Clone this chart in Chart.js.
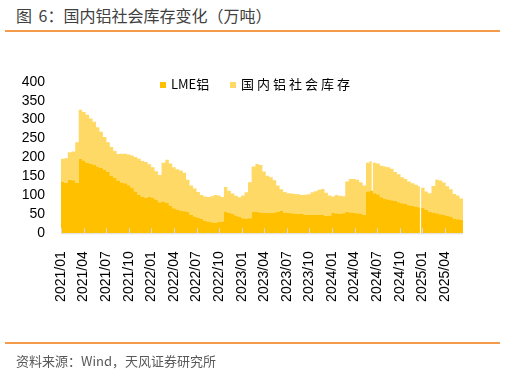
<!DOCTYPE html>
<html>
<head>
<meta charset="utf-8">
<script src="https://cdn.jsdelivr.net/npm/chart.js@4"></script>
<style>
  body { margin: 0; background: #fff; }
  #wrap { position: relative; width: 505px; height: 373px; overflow: hidden; font-family: "Noto Sans CJK SC", sans-serif; }
  #chart { position: absolute; left: 0; top: 0; }
  .title { position: absolute; left: 16px; top: 4px; font-size: 16px; line-height: 22px; color: #404040; word-spacing: 3px; }
  .rule { position: absolute; left: 5px; width: 495px; height: 2px; background: #f39b4b; }
  .source { position: absolute; left: 16px; top: 352px; font-size: 13px; line-height: 18px; color: #595959; }
  #legend { position: absolute; top: 76px; left: 160px; font-size: 13px; line-height: 16px; color: #000; white-space: nowrap; }
  #legend span.item { position: absolute; top: 0; }
  #legend i { position: absolute; top: 6px; width: 6px; height: 6px; }
  #legend b { font-weight: normal; position: absolute; left: 11px; top: 0; }
</style>
</head>
<body>
<div id="wrap">
  <div class="title">图 6：国内铝社会库存变化（万吨）</div>
  <div class="rule" style="top:30px"></div>
  <canvas id="chart" width="505" height="373"></canvas>
  <div id="legend"></div>
  <div class="rule" style="top:342px"></div>
  <div class="source">资料来源：Wind，天风证券研究所</div>
</div>
<script>
// 数据：双周频，从 2021-01-01 起
const startDate = "2021-01-01";
const stepDays = 14;

const lme = [
  136, 133, 141, 140, 133, 196, 192, 186, 183, 181,
  176, 172, 167, 162, 152, 146, 139, 134, 132, 127,
  120, 110, 101, 96, 94, 96, 93, 89, 82, 84,
  80, 73, 66, 63, 60, 58, 56, 48, 44, 42,
  38, 33, 31, 29, 28, 30, 31, 57, 54, 51,
  47, 43, 40, 39, 40, 57, 56, 55, 54, 54,
  54, 55, 56, 60, 55, 54, 53, 52, 51, 52,
  49, 48, 48, 48, 48, 48, 46, 47, 54, 53,
  52, 53, 57, 55, 54, 53, 51, 48, 110, 112,
  106, 103, 95, 91, 89, 87, 85, 82, 79, 77,
  74, 72, 71, 69, 67, 62, 57, 55, 53, 50,
  48, 46, 44, 39, 37, 36, 36
];

const domestic = [
  61, 65, 73, 76, 107, 130, 128, 127, 120, 113,
  104, 96, 87, 78, 76, 71, 70, 76, 78, 81,
  85, 91, 96, 95, 94, 86, 81, 75, 72, 102,
  114, 111, 108, 106, 106, 102, 85, 78, 74, 67,
  63, 64, 65, 69, 73, 70, 65, 65, 58, 54,
  52, 52, 60, 69, 95, 119, 127, 125, 109, 98,
  94, 85, 70, 56, 54, 52, 52, 52, 52, 49,
  53, 55, 60, 63, 67, 69, 61, 53, 43, 48,
  47, 45, 80, 88, 89, 88, 84, 78, 76, 78,
  80, 81, 83, 85, 85, 83, 77, 74, 69, 66,
  63, 60, 57, 55, 53, 48, 49, 70, 88, 89,
  86, 78, 72, 65, 63, 56, 46
];

// 缺失日（图中白色竖线）
const gapDates = ["2024-06-09", "2024-12-22"];
const gapLme = [112, 0];
const gapDomestic = [0, 0];

const seriesNames = ["LME铝", "国内铝社会库存"];
const seriesColors = ["#ffc000", "#ffd966"];

const tickLabels = [
  "2021/01", "2021/04", "2021/07", "2021/10",
  "2022/01", "2022/04", "2022/07", "2022/10",
  "2023/01", "2023/04", "2023/07", "2023/10",
  "2024/01", "2024/04", "2024/07", "2024/10",
  "2025/01", "2025/04"
];

// 日期 -> 距 2021/01 的月数
function monthPos(d) {
  const y = d.getUTCFullYear(), m = d.getUTCMonth(), day = d.getUTCDate();
  const dim = new Date(Date.UTC(y, m + 1, 0)).getUTCDate();
  return (y - 2021) * 12 + m + (day - 1) / dim;
}

const t0 = new Date(startDate + "T00:00:00Z");
let pts = lme.map((v, i) => ({
  x: monthPos(new Date(t0.getTime() + i * stepDays * 86400000)),
  l: v, d: domestic[i]
}));
gapDates.forEach((g, k) => pts.push({ x: monthPos(new Date(g + "T00:00:00Z")), l: gapLme[k], d: gapDomestic[k] }));
pts.sort((a, b) => a.x - b.x);

const tickPos = tickLabels.map(s => {
  const [y, m] = s.split("/").map(Number);
  return (y - 2021) * 12 + (m - 1);
});
const xMax = pts[pts.length - 1].x;

// 向内的刻度线 + 横轴
const axisPlugin = {
  id: "axisTicks",
  afterDatasetsDraw(chart) {
    const { ctx, chartArea } = chart;
    const xs = chart.scales.x;
    ctx.save();
    ctx.strokeStyle = "#d9d9d9";
    ctx.lineWidth = 1;
    ctx.beginPath();
    tickPos.forEach(v => {
      const px = Math.round(xs.getPixelForValue(v)) + 0.5;
      ctx.moveTo(px, chartArea.bottom);
      ctx.lineTo(px, chartArea.bottom - 5);
    });
    ctx.moveTo(chartArea.left, chartArea.bottom + 0.5);
    ctx.lineTo(chartArea.right, chartArea.bottom + 0.5);
    ctx.stroke();
    ctx.restore();
  }
};

const chart = new Chart(document.getElementById("chart"), {
  type: "line",
  data: {
    datasets: [
      {
        label: seriesNames[0],
        data: pts.map(p => ({ x: p.x, y: p.l })),
        backgroundColor: seriesColors[0],
        borderColor: seriesColors[0],
        borderWidth: 0,
        fill: "origin",
        stepped: true,
        pointRadius: 0
      },
      {
        label: seriesNames[1],
        data: pts.map(p => ({ x: p.x, y: p.d })),
        backgroundColor: seriesColors[1],
        borderColor: seriesColors[1],
        borderWidth: 0,
        fill: "-1",
        stepped: true,
        pointRadius: 0
      }
    ]
  },
  options: {
    responsive: false,
    animation: false,
    layout: { padding: { top: 81.7, right: 42, left: 0, bottom: 0 } },
    plugins: {
      legend: { display: false },
      tooltip: { enabled: false }
    },
    scales: {
      x: {
        type: "linear",
        min: 0,
        max: xMax,
        grid: { display: false, drawTicks: false },
        border: { display: false },
        afterBuildTicks(scale) {
          scale.ticks = tickPos.map(v => ({ value: v }));
        },
        afterFit(scale) { scale.height = 373 - 233.3; },
        ticks: {
          autoSkip: false,
          minRotation: 90,
          maxRotation: 90,
          padding: 18,
          color: "#000",
          font: { family: "Liberation Sans", size: 14 },
          callback: v => tickLabels[tickPos.indexOf(v)]
        }
      },
      y: {
        stacked: true,
        min: 0,
        max: 400,
        grid: { display: false, drawTicks: false },
        border: { display: false },
        afterFit(scale) { scale.width = 61; },
        ticks: {
          stepSize: 50,
          autoSkip: false,
          padding: 16,
          color: "#000",
          font: { family: "Liberation Sans", size: 14 }
        }
      }
    }
  },
  plugins: [axisPlugin]
});

// 图例
const legend = document.getElementById("legend");
const offsets = [0, 70];
chart.data.datasets.forEach((ds, i) => {
  const item = document.createElement("span");
  item.className = "item";
  item.style.left = offsets[i] + "px";
  const box = document.createElement("i");
  box.style.background = ds.backgroundColor;
  const txt = document.createElement("b");
  txt.textContent = ds.label;
  if (i === 1) txt.style.letterSpacing = "3px";
  item.appendChild(box);
  item.appendChild(txt);
  legend.appendChild(item);
});
</script>
</body>
</html>
